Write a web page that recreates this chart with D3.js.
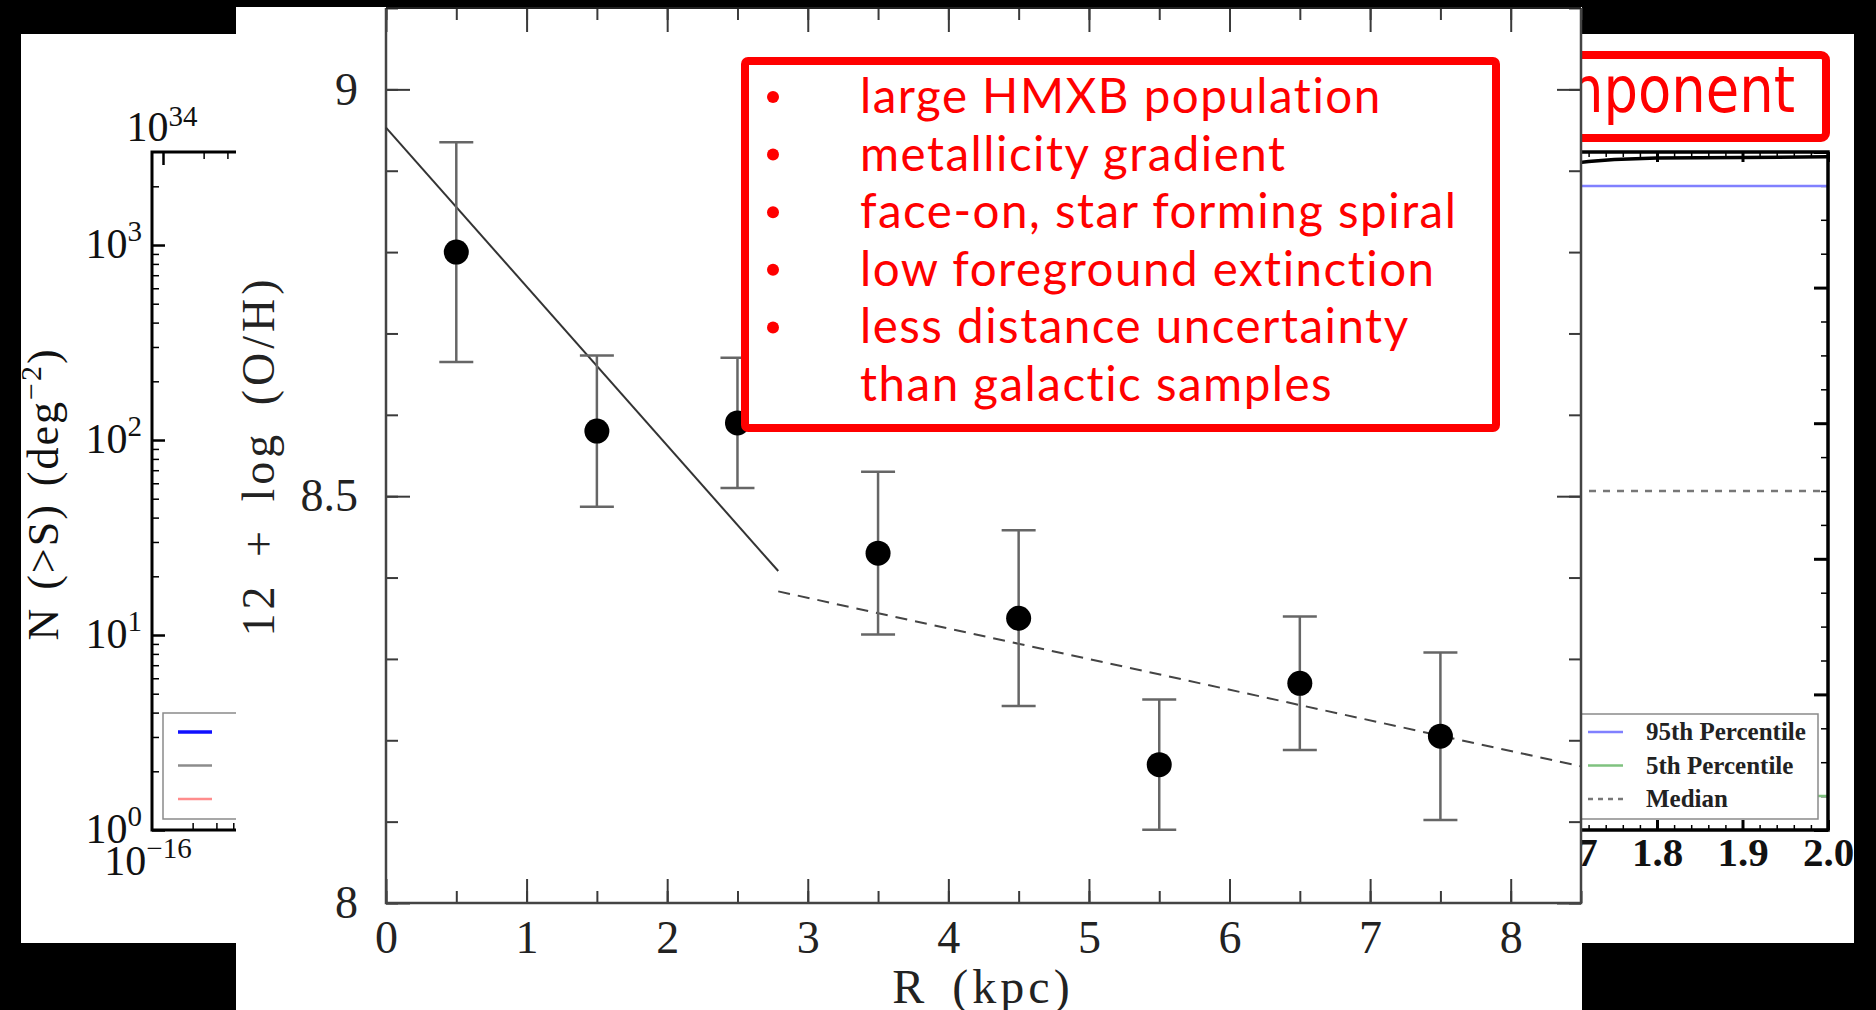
<!DOCTYPE html>
<html>
<head>
<meta charset="utf-8">
<script src="https://cdn.jsdelivr.net/npm/d3@7"></script>
<style>
  html, body { margin: 0; padding: 0; background: #000; overflow: hidden; }
  svg { display: block; }
</style>
</head>
<body>
<svg id="slide" width="1876" height="1010"></svg>
<script>
// ---------- Oxygen abundance gradient (front figure) ----------
const radiusKpc    = [0.5, 1.5, 2.5, 3.5, 4.5, 5.5, 6.5, 7.5];
const abundance    = [8.80, 8.58, 8.59, 8.43, 8.35, 8.17, 8.27, 8.205];
const abundanceErr = [0.135, 0.093, 0.08, 0.10, 0.108, 0.08, 0.082, 0.103];
// broken linear fit: inner disc (solid) and outer disc (dashed)
const innerFitR  = [0, 2.79];
const innerFitOH = [8.953, 8.408];
const outerFitR  = [2.79, 8.5];
const outerFitOH = [8.383, 8.168];
const radiusTicks    = [0, 1, 2, 3, 4, 5, 6, 7, 8];
const abundanceTicks = [8, 8.5, 9];
const highlights = [
  "large HMXB population",
  "metallicity gradient",
  "face-on, star forming spiral",
  "low foreground extinction",
  "less distance uncertainty",
  "than galactic samples"
];
const bulleted = [true, true, true, true, true, false];

// ---------- percentile panel (right, behind) ----------
const ratioX   = [1.70, 1.72, 1.75, 1.80, 1.90, 2.00];
const ratioCdf = [0.983, 0.986, 0.989, 0.991, 0.992, 0.993];
const percentileNames  = ["95th Percentile", "5th Percentile", "Median"];
const percentileLevels = [0.95, 0.05, 0.5];
const percentileColors = ["#8080ff", "#7fc27f", "#777777"];
const ratioTicks = [1.7, 1.8, 1.9, 2.0];
const panelTitleTail = "component";

// ---------- source counts panel (left, behind) ----------
const countDecades  = [0, 1, 2, 3];           // log10 N(>S) labels
const countLegendColors = ["#1010ff", "#8c8c8c", "#ff8c8c"];
const fluxLowDecade = -16;
const lumTopDecade  = 34;

const svg = d3.select("#slide");
const W = 1876, H = 1010;
const serif = "'Liberation Serif', 'DejaVu Serif', serif";

svg.append("rect").attr("width", W).attr("height", H).attr("fill", "#000");

const defs = svg.append("defs");
defs.append("clipPath").attr("id", "clipLeft")
  .append("rect").attr("x", 21).attr("y", 34).attr("width", 215).attr("height", 909);
defs.append("clipPath").attr("id", "clipRight")
  .append("rect").attr("x", 1582).attr("y", 34).attr("width", 272).attr("height", 909);

// slide underneath
svg.append("rect").attr("x", 21).attr("y", 34).attr("width", 1833).attr("height", 909).attr("fill", "#fff");

function styleAxis(g, color, width) {
  g.select(".domain").remove();
  g.selectAll(".tick line").attr("stroke", color).attr("stroke-width", width);
}

// ======== left panel: cumulative source counts ========
(function () {
  const g = svg.append("g").attr("clip-path", "url(#clipLeft)");
  const x = d3.scaleLog().domain([Math.pow(10, fluxLowDecade), Math.pow(10, fluxLowDecade + 5)]).range([152, 827]);
  const xTop = d3.scaleLog().domain([Math.pow(10, lumTopDecade), Math.pow(10, lumTopDecade + 5)]).range([163, 838]);
  const y = d3.scaleLog().domain([1, Math.pow(10, 3.477)]).range([830, 152]);

  const majorY = countDecades.map(d => Math.pow(10, d));
  const minorY = [];
  countDecades.forEach(d => { for (let k = 2; k <= 9; k++) minorY.push(k * Math.pow(10, d)); });
  const minorX = [];
  for (let d = 0; d < 5; d++) for (let k = 2; k <= 9; k++) minorX.push(k * Math.pow(10, fluxLowDecade + d));
  const minorXTop = [];
  for (let d = 0; d < 5; d++) for (let k = 2; k <= 9; k++) minorXTop.push(k * Math.pow(10, lumTopDecade + d));

  g.append("g").attr("transform", "translate(152,0)")
    .call(d3.axisLeft(y).tickValues(minorY.filter(v => v < y.domain()[1])).tickSize(-7).tickFormat(""))
    .call(a => styleAxis(a, "#000", 1.5));
  g.append("g").attr("transform", "translate(152,0)")
    .call(d3.axisLeft(y).tickValues(majorY).tickSize(-13).tickFormat(""))
    .call(a => styleAxis(a, "#000", 2.5));
  g.append("g").attr("transform", "translate(0,830)")
    .call(d3.axisBottom(x).tickValues(minorX).tickSize(-7).tickFormat(""))
    .call(a => styleAxis(a, "#000", 1.5));
  g.append("g").attr("transform", "translate(0,152)")
    .call(d3.axisTop(xTop).tickValues(minorXTop).tickSize(-7).tickFormat(""))
    .call(a => styleAxis(a, "#000", 1.5));
  g.append("g").attr("transform", "translate(0,152)")
    .call(d3.axisTop(xTop).tickValues([Math.pow(10, lumTopDecade)]).tickSize(-13).tickFormat(""))
    .call(a => styleAxis(a, "#000", 2.5));

  g.append("rect").attr("x", 152).attr("y", 152).attr("width", 675).attr("height", 678)
    .attr("fill", "none").attr("stroke", "#000").attr("stroke-width", 3);

  // y tick labels 10^n
  countDecades.forEach(d => {
    const t = g.append("text").attr("x", 142).attr("y", y(Math.pow(10, d)) + 13)
      .attr("text-anchor", "end").attr("font-family", serif).attr("font-size", 42).attr("fill", "#111");
    t.append("tspan").text("10");
    t.append("tspan").attr("dy", -17).attr("font-size", 29).text(String(d));
  });
  // bottom flux label
  const tb = g.append("text").attr("x", x(Math.pow(10, fluxLowDecade)) - 4).attr("y", 875)
    .attr("text-anchor", "middle").attr("font-family", serif).attr("font-size", 42).attr("fill", "#111");
  tb.append("tspan").text("10");
  tb.append("tspan").attr("dy", -17).attr("font-size", 29).text("\u2212" + Math.abs(fluxLowDecade));
  // top luminosity label
  const tt = g.append("text").attr("x", xTop(Math.pow(10, lumTopDecade)) - 1).attr("y", 141)
    .attr("text-anchor", "middle").attr("font-family", serif).attr("font-size", 42).attr("fill", "#111");
  tt.append("tspan").text("10");
  tt.append("tspan").attr("dy", -15).attr("font-size", 29).text(String(lumTopDecade));

  // y axis title
  const yl = g.append("text").attr("transform", "translate(58,494) rotate(-90)")
    .attr("text-anchor", "middle").attr("font-family", serif).attr("font-size", 44).attr("fill", "#111")
    .attr("letter-spacing", 2).attr("word-spacing", 4);
  yl.append("tspan").text("N (>S) (deg");
  yl.append("tspan").attr("dy", -17).attr("font-size", 30).text("\u22122");
  yl.append("tspan").attr("dy", 17).text(")");

  // legend
  g.append("rect").attr("x", 163).attr("y", 713).attr("width", 300).attr("height", 106)
    .attr("fill", "#fff").attr("stroke", "#8a8a8a").attr("stroke-width", 1.5);
  g.selectAll("line.lg").data(countLegendColors).join("line").attr("class", "lg")
    .attr("x1", 178).attr("x2", 212)
    .attr("y1", (d, i) => 732 + i * 33.5).attr("y2", (d, i) => 732 + i * 33.5)
    .attr("stroke", d => d).attr("stroke-width", (d, i) => i === 0 ? 3.5 : 2.5);
})();

// ======== right panel: percentile curves ========
(function () {
  const g = svg.append("g").attr("clip-path", "url(#clipRight)");
  const x = d3.scaleLinear().domain([1.0, 2.0]).range([973, 1828]);
  const y = d3.scaleLinear().domain([0, 1]).range([830, 152]);

  // title box (partly covered)
  g.append("rect").attr("x", 1300).attr("y", 55).attr("width", 526).attr("height", 83).attr("rx", 5)
    .attr("fill", "#fff").attr("stroke", "#ff0000").attr("stroke-width", 8);
  g.append("text").attr("transform", "translate(1795,112) scale(0.85,1)")
    .attr("text-anchor", "end").attr("font-family", "'DejaVu Sans', sans-serif").attr("font-size", 64)
    .attr("fill", "#ff0000").text(panelTitleTail);

  const minorX = d3.range(1.0, 2.0001, 0.02);
  const majorX = d3.range(1.0, 2.0001, 0.1);
  g.append("g").attr("transform", "translate(0,830)")
    .call(d3.axisBottom(x).tickValues(minorX).tickSize(-5).tickFormat(""))
    .call(a => styleAxis(a, "#000", 1.5));
  g.append("g").attr("transform", "translate(0,830)")
    .call(d3.axisBottom(x).tickValues(majorX).tickSize(-10).tickPadding(7).tickFormat(d3.format(".1f")))
    .call(a => styleAxis(a, "#000", 3))
    .call(a => a.selectAll("text").attr("font-family", serif).attr("font-size", 41).attr("fill", "#111")
      .attr("font-weight", "bold"));
  g.append("g").attr("transform", "translate(0,152)")
    .call(d3.axisTop(x).tickValues(minorX).tickSize(-5).tickFormat(""))
    .call(a => styleAxis(a, "#000", 1.5));
  g.append("g").attr("transform", "translate(0,152)")
    .call(d3.axisTop(x).tickValues(majorX).tickSize(-10).tickFormat(""))
    .call(a => styleAxis(a, "#000", 3));
  g.append("g").attr("transform", "translate(1828,0)")
    .call(d3.axisRight(y).tickValues(d3.range(0, 1.0001, 0.05)).tickSize(-7).tickFormat(""))
    .call(a => styleAxis(a, "#000", 1.5));
  g.append("g").attr("transform", "translate(1828,0)")
    .call(d3.axisRight(y).tickValues(d3.range(0, 1.0001, 0.2)).tickSize(-14).tickFormat(""))
    .call(a => styleAxis(a, "#000", 3));

  // percentile levels
  percentileLevels.forEach((lv, i) => {
    g.append("line").attr("x1", x(1.0)).attr("x2", x(2.0)).attr("y1", y(lv)).attr("y2", y(lv))
      .attr("stroke", percentileColors[i]).attr("stroke-width", 2.5)
      .attr("stroke-dasharray", i === 2 ? "7,7" : null);
  });
  // cumulative curve
  g.append("path").datum(ratioX.map((v, i) => [v, ratioCdf[i]]))
    .attr("d", d3.line().x(d => x(d[0])).y(d => y(d[1])))
    .attr("fill", "none").attr("stroke", "#000").attr("stroke-width", 3.5);

  g.append("rect").attr("x", 973).attr("y", 152).attr("width", 855).attr("height", 678)
    .attr("fill", "none").attr("stroke", "#000").attr("stroke-width", 3.5);

  // legend
  g.append("rect").attr("x", 1500).attr("y", 714).attr("width", 318).attr("height", 105)
    .attr("fill", "#fff").attr("stroke", "#8a8a8a").attr("stroke-width", 1.5);
  percentileNames.forEach((name, i) => {
    const yy = 732 + i * 33.5;
    g.append("line").attr("x1", 1588).attr("x2", 1623).attr("y1", yy).attr("y2", yy)
      .attr("stroke", percentileColors[i]).attr("stroke-width", 2.5)
      .attr("stroke-dasharray", i === 2 ? "5,5" : null);
    g.append("text").attr("x", 1646).attr("y", yy + 8).attr("font-family", serif)
      .attr("font-size", 25).attr("font-weight", "bold").attr("fill", "#222").text(name);
  });
})();

// ======== front figure: 12 + log(O/H) vs R ========
svg.append("rect").attr("x", 236).attr("y", 7).attr("width", 1346).attr("height", 1003).attr("fill", "#fff");

(function () {
  const g = svg.append("g");
  const left = 386, right = 1581, top = 8, bottom = 903;
  const x = d3.scaleLinear().domain([0, 8.5]).range([left, right]);
  const y = d3.scaleLinear().domain([8, 9.1]).range([bottom, top]);
  const ink = "#3a3a3a";

  const minorX = d3.range(0, 8.5001, 0.5);
  const minorY = d3.range(8, 9.1001, 0.1);

  // ticks on all four sides, pointing inward
  g.append("g").attr("transform", `translate(0,${bottom})`)
    .call(d3.axisBottom(x).tickValues(minorX).tickSize(-12).tickFormat(""))
    .call(a => styleAxis(a, ink, 2));
  g.append("g").attr("transform", `translate(0,${bottom})`)
    .call(d3.axisBottom(x).tickValues(radiusTicks).tickSize(-24).tickPadding(17).tickFormat(d3.format("d")))
    .call(a => styleAxis(a, ink, 2))
    .call(a => a.selectAll("text").attr("font-family", serif).attr("font-size", 46).attr("fill", "#222"));
  g.append("g").attr("transform", `translate(0,${top})`)
    .call(d3.axisTop(x).tickValues(minorX).tickSize(-12).tickFormat(""))
    .call(a => styleAxis(a, ink, 2));
  g.append("g").attr("transform", `translate(0,${top})`)
    .call(d3.axisTop(x).tickValues(radiusTicks).tickSize(-24).tickFormat(""))
    .call(a => styleAxis(a, ink, 2));
  g.append("g").attr("transform", `translate(${left},0)`)
    .call(d3.axisLeft(y).tickValues(minorY).tickSize(-12).tickFormat(""))
    .call(a => styleAxis(a, ink, 2));
  g.append("g").attr("transform", `translate(${left},0)`)
    .call(d3.axisLeft(y).tickValues(abundanceTicks).tickSize(-24).tickPadding(28).tickFormat(d => String(d)))
    .call(a => styleAxis(a, ink, 2))
    .call(a => a.selectAll("text").attr("font-family", serif).attr("font-size", 46).attr("fill", "#222"));
  g.append("g").attr("transform", `translate(${right},0)`)
    .call(d3.axisRight(y).tickValues(minorY).tickSize(-12).tickFormat(""))
    .call(a => styleAxis(a, ink, 2));
  g.append("g").attr("transform", `translate(${right},0)`)
    .call(d3.axisRight(y).tickValues(abundanceTicks).tickSize(-24).tickFormat(""))
    .call(a => styleAxis(a, ink, 2));

  // frame
  g.append("path")
    .attr("d", `M${left},${top}V${bottom}H${right}V${top}`)
    .attr("fill", "none").attr("stroke", "#444").attr("stroke-width", 2.5);
  g.append("line").attr("x1", left).attr("x2", right).attr("y1", top).attr("y2", top)
    .attr("stroke", "#222").attr("stroke-width", 2);

  // fits
  const line = d3.line().x(d => x(d[0])).y(d => y(d[1]));
  g.append("path").datum(innerFitR.map((r, i) => [r, innerFitOH[i]]))
    .attr("d", line).attr("fill", "none").attr("stroke", "#333").attr("stroke-width", 2);
  g.append("path").datum(outerFitR.map((r, i) => [r, outerFitOH[i]]))
    .attr("d", line).attr("fill", "none").attr("stroke", "#444").attr("stroke-width", 2)
    .attr("stroke-dasharray", "12,8");

  // error bars
  const pts = radiusKpc.map((r, i) => ({ r, v: abundance[i], e: abundanceErr[i] }));
  const eb = g.selectAll("g.eb").data(pts).join("g").attr("class", "eb");
  eb.append("line").attr("x1", d => x(d.r)).attr("x2", d => x(d.r))
    .attr("y1", d => y(d.v + d.e)).attr("y2", d => y(d.v - d.e))
    .attr("stroke", "#666").attr("stroke-width", 2.5);
  eb.append("line").attr("x1", d => x(d.r) - 17).attr("x2", d => x(d.r) + 17)
    .attr("y1", d => y(d.v + d.e)).attr("y2", d => y(d.v + d.e))
    .attr("stroke", "#666").attr("stroke-width", 2.5);
  eb.append("line").attr("x1", d => x(d.r) - 17).attr("x2", d => x(d.r) + 17)
    .attr("y1", d => y(d.v - d.e)).attr("y2", d => y(d.v - d.e))
    .attr("stroke", "#666").attr("stroke-width", 2.5);
  eb.append("circle").attr("cx", d => x(d.r)).attr("cy", d => y(d.v)).attr("r", 12.5).attr("fill", "#000");

  // axis titles
  g.append("text").attr("x", 983).attr("y", 1003).attr("text-anchor", "middle")
    .attr("font-family", serif).attr("font-size", 48).attr("fill", "#222")
    .attr("letter-spacing", 4).attr("word-spacing", 8).text("R (kpc)");
  g.append("text").attr("transform", "translate(274,456) rotate(-90)").attr("text-anchor", "middle")
    .attr("font-family", serif).attr("font-size", 46).attr("fill", "#222")
    .attr("letter-spacing", 4).attr("word-spacing", 10).text("12 + log (O/H)");

  // highlight box
  g.append("rect").attr("x", 745).attr("y", 61).attr("width", 751).attr("height", 367).attr("rx", 3)
    .attr("fill", "#fff").attr("stroke", "#ff0000").attr("stroke-width", 8);
  const rows = g.selectAll("g.hl").data(highlights).join("g").attr("class", "hl")
    .attr("transform", (d, i) => `translate(0,${113 + i * 57.6})`);
  rows.filter((d, i) => bulleted[i]).append("circle").attr("cx", 773).attr("cy", -16).attr("r", 6).attr("fill", "#ff0000");
  rows.append("text").attr("x", 860).attr("y", 0)
    .attr("font-family", "Lato, 'Open Sans', sans-serif").attr("font-size", 47.5).attr("fill", "#ff0000")
    .attr("letter-spacing", 1.5)
    .text(d => d);
})();
</script>
</body>
</html>
